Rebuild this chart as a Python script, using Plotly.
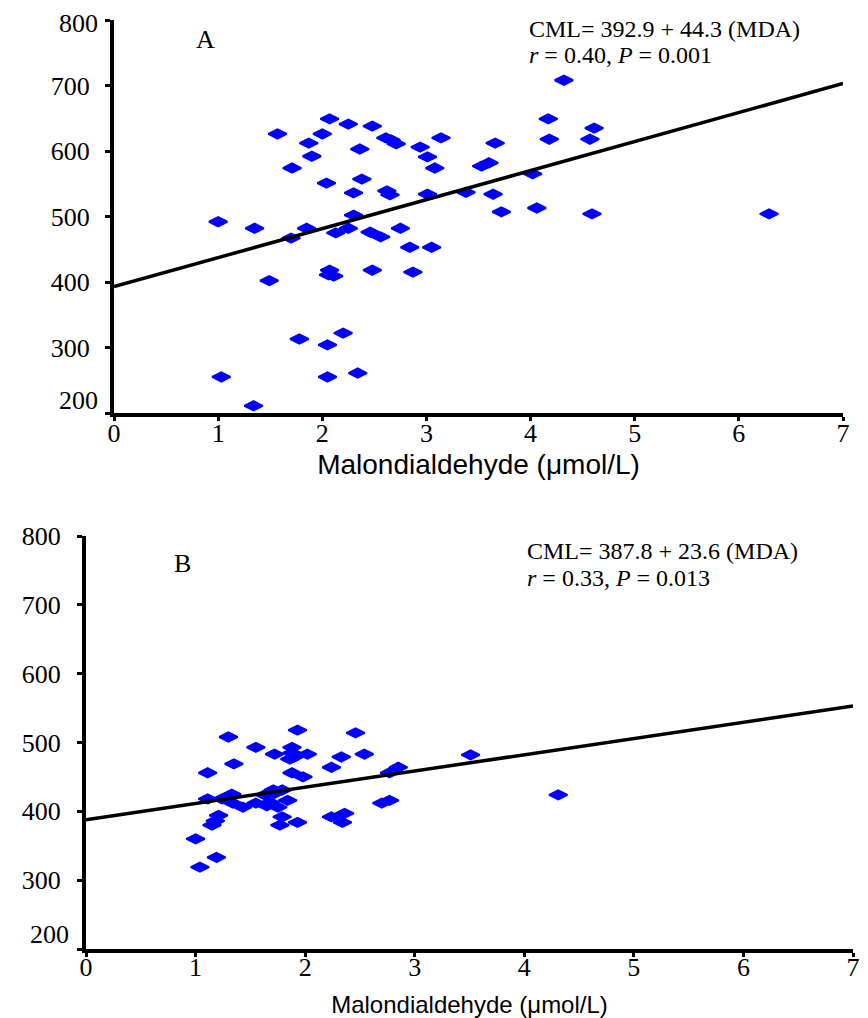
import plotly.graph_objects as go

# page body adds an 8px margin; the figure is sized to fit the 868x1018 window
OFF = 8
W, H = 868 - OFF, 1018 - OFF

# ---------------- Panel A data (MDA µmol/L vs CML) ----------------
mda_a = [1.57, 2.07, 2.25, 2.48, 2.00, 1.87, 2.61, 2.66, 2.71, 2.36,
         1.90, 2.94, 3.01, 3.08, 3.14, 1.71, 2.04, 2.38, 2.30, 2.62,
         2.65, 3.01, 2.30, 1.00, 1.35, 1.85, 1.70, 2.13, 2.25, 2.46,
         2.56, 2.75, 2.84, 3.05, 1.49, 2.07, 2.06, 2.11, 2.48, 2.87,
         1.78, 2.05, 2.20, 1.03, 2.05, 2.34, 1.34, 4.32, 4.17, 4.18,
         4.61, 4.57, 3.66, 3.53, 3.60, 4.02, 3.38, 3.64, 3.72, 4.06,
         4.59, 6.29]
cml_a = [626, 649, 641, 638, 626, 612, 620, 617, 611, 603,
         592, 606, 591, 574, 620, 574, 551, 557, 536, 539,
         533, 534, 502, 492, 482, 482, 467, 475, 482, 476,
         469, 482, 453, 453, 402, 418, 411, 409, 418, 415,
         313, 304, 322, 255, 255, 261, 211, 708, 649, 618,
         635, 618, 612, 577, 582, 565, 537, 534, 507, 513,
         504, 504]

# ---------------- Panel B data ----------------
mda_b = [1.30, 1.93, 2.46, 1.55, 1.88, 1.88, 1.86, 1.90, 1.72, 2.02,
         2.33, 2.54, 1.35, 2.24, 1.11, 1.88, 1.98, 2.85, 2.77, 1.11,
         1.24, 1.33, 1.34, 1.43, 1.55, 1.63, 1.65, 1.72, 1.75, 1.79,
         1.84, 1.68, 1.71, 1.79, 1.77, 1.93, 1.21, 1.15, 1.18, 2.24,
         2.36, 2.34, 2.70, 2.77, 1.00, 1.19, 1.04, 3.51, 4.31]
cml_b = [508, 518, 514, 493, 493, 485, 476, 479, 483, 483,
         479, 483, 469, 464, 456, 456, 450, 464, 456, 418,
         418, 425, 412, 406, 412, 424, 408, 426, 406, 431,
         416, 413, 431, 392, 380, 384, 394, 380, 386, 392,
         397, 384, 412, 416, 360, 333, 319, 482, 424]

# regression equations (intercept, slope)
fit_a = (392.9, 44.3)
fit_b = (387.8, 23.6)
fit_x = [0, 7]

x_ticks = [0, 1, 2, 3, 4, 5, 6, 7]
y_ticks = [200, 300, 400, 500, 600, 700, 800]
y_tick_text_a = ["", "300", "400", "500", "600", "700", ""]
y_tick_text_b = ["", "300", "400", "500", "600", "700", "800"]

eq_a = ["CML= 392.9 + 44.3 (MDA)", "<i>r</i> = 0.40, <i>P</i> = 0.001"]
eq_b = ["CML= 387.8 + 23.6 (MDA)", "<i>r</i> = 0.33, <i>P</i> = 0.013"]
x_title = "Malondialdehyde (μmol/L)"

SERIF = "Liberation Serif"
SANS = "Liberation Sans"
BLUE = "#0000FF"

fig = go.Figure()

marker = dict(symbol="diamond-wide", size=13, color=BLUE,
              line=dict(color=BLUE, width=2))

fig.add_trace(go.Scatter(x=mda_a, y=cml_a, mode="markers", marker=marker,
                         xaxis="x", yaxis="y", showlegend=False))
fig.add_trace(go.Scatter(x=fit_x, y=[fit_a[0] + fit_a[1] * v for v in fit_x],
                         mode="lines", line=dict(color="black", width=3.5),
                         xaxis="x", yaxis="y", showlegend=False))
fig.add_trace(go.Scatter(x=mda_b, y=cml_b, mode="markers", marker=marker,
                         xaxis="x2", yaxis="y2", showlegend=False))
fig.add_trace(go.Scatter(x=fit_x, y=[fit_b[0] + fit_b[1] * v for v in fit_x],
                         mode="lines", line=dict(color="black", width=3.5),
                         xaxis="x2", yaxis="y2", showlegend=False))


def px_x(p):
    return (p - OFF) / W


def px_y(p):
    return 1 - (p - OFF) / H


dom_a_x = [px_x(114), px_x(843)]
dom_a_y = [px_y(413), px_y(20)]
dom_b_x = [px_x(86), px_x(853)]
dom_b_y = [px_y(949), px_y(536)]

xcommon = dict(range=[0, 7], tickvals=x_ticks, showline=True, linecolor="black",
               linewidth=4, ticks="outside", ticklen=4, tickwidth=3,
               tickcolor="black", showgrid=False, zeroline=False,
               automargin=False, ticklabeloverflow="allow",
               tickfont=dict(family=SERIF, size=26, color="black"))
ycommon = dict(range=[200, 800], tickvals=y_ticks,
               showline=True, linecolor="black", linewidth=4, ticks="outside",
               ticklen=5, tickwidth=3, tickcolor="black", showgrid=False,
               zeroline=False, automargin=False, ticklabeloverflow="allow",
               tickfont=dict(family=SERIF, size=26, color="black"))

fig.update_layout(
    template="none",
    width=W, height=H, margin=dict(l=0, r=0, t=0, b=0, pad=0),
    paper_bgcolor="white", plot_bgcolor="white",
    xaxis=dict(domain=dom_a_x, anchor="y", ticklabelstandoff=-10, **xcommon,
               title=dict(text=x_title, standoff=8,
                          font=dict(family=SANS, size=28, color="black"))),
    yaxis=dict(domain=dom_a_y, anchor="x", ticklabelstandoff=10,
               ticktext=y_tick_text_a, **ycommon),
    xaxis2=dict(domain=dom_b_x, anchor="y2", ticklabelstandoff=-12, **xcommon,
                title=dict(text=x_title, standoff=20,
                           font=dict(family=SANS, size=24, color="black"))),
    yaxis2=dict(domain=dom_b_y, anchor="x2", ticklabelstandoff=11,
                ticktext=y_tick_text_b, **ycommon),
)

annos = [
    dict(text="A", x=px_x(205), y=px_y(39), xanchor="center", yanchor="middle",
         font=dict(family=SERIF, size=26, color="black")),
    dict(text="B", x=px_x(182), y=px_y(563), xanchor="center", yanchor="middle",
         font=dict(family=SERIF, size=26, color="black")),
    dict(text=eq_a[0], x=px_x(527), y=px_y(29), xanchor="left",
         yanchor="middle", font=dict(family=SERIF, size=24, color="black")),
    dict(text=eq_a[1], x=px_x(527), y=px_y(55), xanchor="left",
         yanchor="middle", font=dict(family=SERIF, size=24, color="black")),
    dict(text=eq_b[0], x=px_x(525), y=px_y(551), xanchor="left",
         yanchor="middle", font=dict(family=SERIF, size=24, color="black")),
    dict(text=eq_b[1], x=px_x(525), y=px_y(578), xanchor="left",
         yanchor="middle", font=dict(family=SERIF, size=24, color="black")),
    # top tick label of panel A, nudged to stay inside the page
    dict(text="800", xref="x domain", yref="y", x=0, y=800, xanchor="right",
         yanchor="middle", xshift=-14, yshift=-3, showarrow=False,
         font=dict(family=SERIF, size=26, color="black")),
    # bottom tick labels, drawn just above the axis crossing as in the original
    dict(text="200", xref="x domain", yref="y", x=0, y=200, xanchor="right",
         yanchor="middle", xshift=-14, yshift=13, showarrow=False,
         font=dict(family=SERIF, size=26, color="black")),
    dict(text="200", xref="x2 domain", yref="y2", x=0, y=200, xanchor="right",
         yanchor="middle", xshift=-15, yshift=15, showarrow=False,
         font=dict(family=SERIF, size=26, color="black")),
]
for a in annos:
    a.setdefault("xref", "paper")
    a.setdefault("yref", "paper")
    a.setdefault("showarrow", False)
    fig.add_annotation(**a)

fig.write_html("out.html")
